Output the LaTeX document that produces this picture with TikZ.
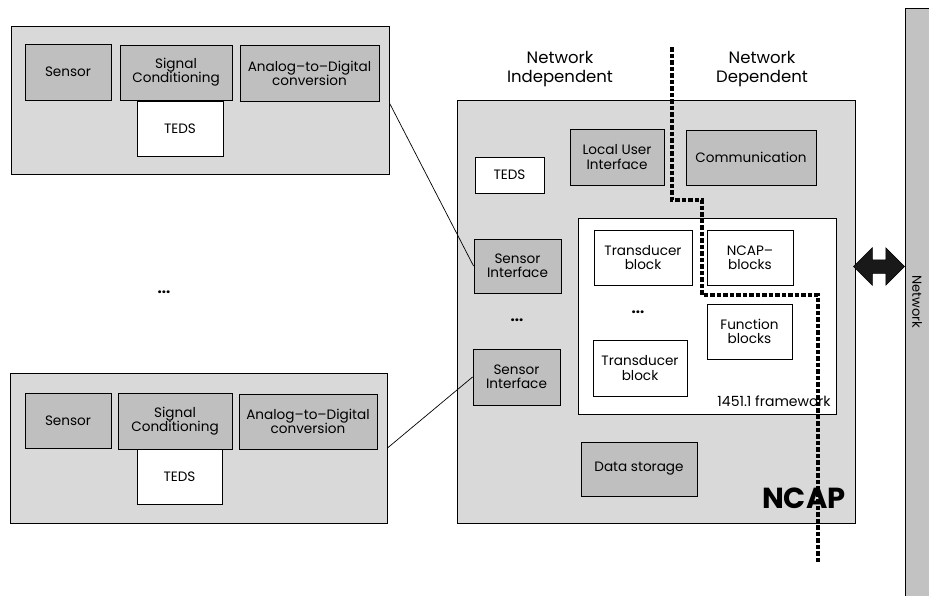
\documentclass[tikz,border=0pt]{standalone}
\usepackage{fontspec}
\setmainfont{Poppins}
\usetikzlibrary{shapes.arrows,calc}
\newcommand\bxfont{\fontsize{13.6}{14.2}\selectfont}
\newcommand\hdfont{\fontsize{16.5}{19}\selectfont}
\begin{document}
\begin{tikzpicture}[x=1pt,y=-1pt,
  base/.style={draw=black, line width=0.9pt, inner sep=0pt, align=center, font=\bxfont},
  modbox/.style={base, fill=gray!30},
  inbox/.style={base, fill=gray!50},
  whitebox/.style={base, fill=white},
  dotsl/.style={font=\bfseries\fontsize{15}{16}\selectfont},
  divline/.style={line width=3.2pt, dash pattern=on 4.5pt off 2pt},
  link/.style={draw=black, line width=0.7pt}]
\useasboundingbox (0,0) rectangle (929,595);

% ---- upper transducer module
\node[modbox, minimum width=378pt, minimum height=148pt] (m1) at (200,100) {};
\node[inbox, minimum width=86pt, minimum height=56pt] (s1) at (68,72) {Sensor};
\node[inbox, minimum width=112pt, minimum height=55pt] (c1) at (176,72.5) {Signal\\Conditioning};
\node[inbox, minimum width=139pt, minimum height=56pt] (a1) at (309.5,73) {Analog--to--Digital\\conversion};
\node[whitebox, minimum width=86pt, minimum height=55pt] (t1) at (180,128.5) {TEDS};

% ---- lower transducer module
\node[modbox, minimum width=377pt, minimum height=150pt] (m2) at (198.5,448) {};
\node[inbox, minimum width=86pt, minimum height=55pt] (s2) at (68,420.5) {Sensor};
\node[inbox, minimum width=114pt, minimum height=56pt] (c2) at (175,421) {Signal\\Conditioning};
\node[inbox, minimum width=138pt, minimum height=55pt] (a2) at (308,421.5) {Analog--to--Digital\\conversion};
\node[whitebox, minimum width=85pt, minimum height=55pt] (t2) at (179.5,476.5) {TEDS};

\node[dotsl] (ldots) at (164,292) {...};

% ---- NCAP
\node[modbox, minimum width=398pt, minimum height=423pt] (ncap) at (656,311.5) {};
\node[font=\hdfont, align=center] (ni) at (560,69) {Network\\Independent};
\node[font=\hdfont, align=center] (nd) at (762,69) {Network\\Dependent};
\node[whitebox, minimum width=69pt, minimum height=36pt] (tn) at (509.5,175) {TEDS};
\node[inbox, minimum width=94pt, minimum height=56pt] (lui) at (617,157) {Local User\\Interface};
\node[inbox, minimum width=130pt, minimum height=55pt] (com) at (751,157.5) {Communication};
\node[inbox, minimum width=87pt, minimum height=54pt] (si1) at (517.5,266) {Sensor\\Interface};
\node[inbox, minimum width=87pt, minimum height=56pt] (si2) at (516.5,377) {Sensor\\Interface};
\node[dotsl] (mdots) at (517,320) {...};
\node[whitebox, minimum width=258pt, minimum height=196pt] (fw) at (707,316) {};
\node[whitebox, minimum width=98pt, minimum height=55pt] (tb1) at (643,257.5) {Transducer\\block};
\node[whitebox, minimum width=86pt, minimum height=55pt] (nb) at (750,257.5) {NCAP--\\blocks};
\node[dotsl] (fdots) at (638,312) {...};
\node[whitebox, minimum width=85pt, minimum height=55pt] (fb) at (749.5,331.5) {Function\\blocks};
\node[whitebox, minimum width=94pt, minimum height=56pt] (tb2) at (640,368) {Transducer\\block};
\node[font=\fontsize{14}{15}\selectfont, anchor=base east] (fwl) at (834,406) {1451.1 framework};
\node[inbox, minimum width=116pt, minimum height=54pt] (ds) at (639,469) {Data storage};
\node[font=\bfseries\fontsize{29}{32}\selectfont, anchor=base east] (ncapl) at (849,508) {NCAP};

% ---- network bar
\node[draw=black, line width=0.9pt, fill=gray!48, minimum width=40pt, minimum height=600pt, inner sep=0pt] (net) at (925,308) {};
\node[font=\fontsize{13}{14}\selectfont, rotate=-90] (netl) at (917,302) {Network};

% ---- double arrow between NCAP and network
\node[double arrow, fill=gray!20!black, draw=black, line width=0.5pt,
      minimum width=37pt, minimum height=51pt, inner sep=6.5pt,
      double arrow head extend=12pt] (arr) at (879,266.5) {};

% ---- connectors
\draw[link] (m1.east) ++(0,3) -- (si1.west);
\draw[link] (m2.east) -- (si2.west);

% ---- dividing line
\coordinate (d0) at (672,47);
\coordinate (d1) at (702,200);
\coordinate (d2) at (818,295);
\coordinate (d3) at (818,563);
\draw[divline] (d0) |- (d1) |- (d2) -- (d3);
\end{tikzpicture}
\end{document}
